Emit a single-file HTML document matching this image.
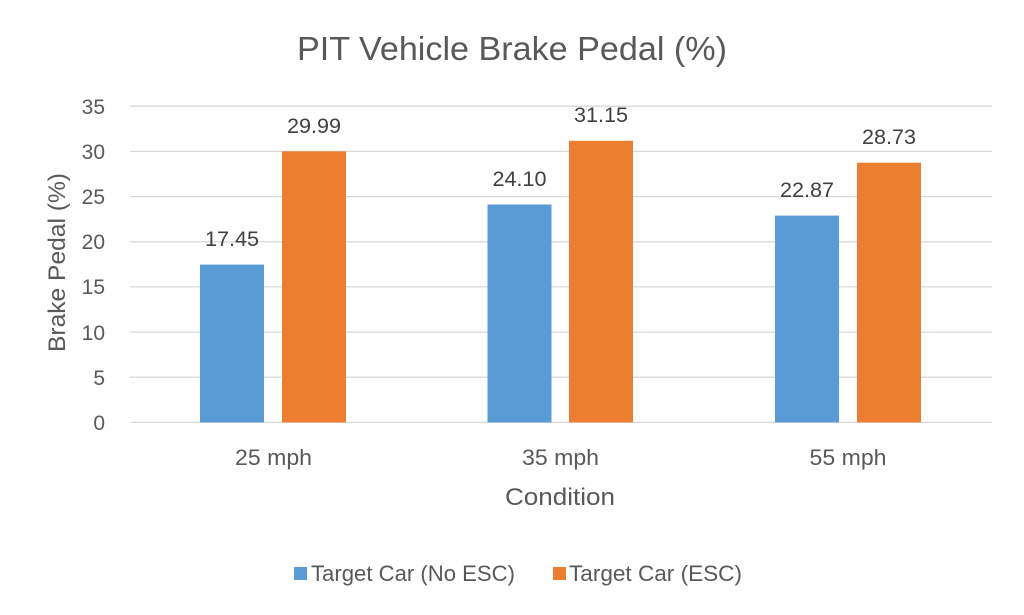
<!DOCTYPE html>
<html>
<head>
<meta charset="utf-8">
<style>
html,body{margin:0;padding:0;background:#fff;}
svg{display:block;}
text{font-family:"Liberation Sans",sans-serif;}
</style>
</head>
<body>
<svg width="1024" height="615" viewBox="0 0 1024 615" xmlns="http://www.w3.org/2000/svg">
<rect width="1024" height="615" fill="#fff"/>
<!-- title -->
<text x="512" y="60" font-size="33" fill="#595959" text-anchor="middle" textLength="430" lengthAdjust="spacingAndGlyphs">PIT Vehicle Brake Pedal (%)</text>
<!-- gridlines -->
<g stroke="#d9d9d9" stroke-width="1.3">
<line x1="130" x2="992" y1="106.2" y2="106.2"/>
<line x1="130" x2="992" y1="151.4" y2="151.4"/>
<line x1="130" x2="992" y1="196.6" y2="196.6"/>
<line x1="130" x2="992" y1="241.8" y2="241.8"/>
<line x1="130" x2="992" y1="286.9" y2="286.9"/>
<line x1="130" x2="992" y1="332.1" y2="332.1"/>
<line x1="130" x2="992" y1="377.2" y2="377.2"/>
<line x1="130" x2="992" y1="422.4" y2="422.4"/>
</g>
<!-- y tick labels -->
<g font-size="21" fill="#595959" text-anchor="end">
<text x="105" y="114">35</text>
<text x="105" y="159">30</text>
<text x="105" y="204">25</text>
<text x="105" y="249">20</text>
<text x="105" y="294">15</text>
<text x="105" y="340">10</text>
<text x="105" y="385">5</text>
<text x="105" y="430">0</text>
</g>
<!-- y axis title -->
<text transform="translate(65,262.5) rotate(-90)" font-size="24" fill="#595959" text-anchor="middle" textLength="179" lengthAdjust="spacingAndGlyphs">Brake Pedal (%)</text>
<!-- bars -->
<g fill="#5B9BD5">
<rect x="200" y="264.6" width="64" height="157.8"/>
<rect x="487.5" y="204.5" width="64" height="217.9"/>
<rect x="775" y="215.6" width="64" height="206.8"/>
</g>
<g fill="#ED7D31">
<rect x="282" y="151.3" width="64" height="271.1"/>
<rect x="569" y="140.8" width="64" height="281.6"/>
<rect x="857" y="162.7" width="64" height="259.7"/>
</g>
<!-- data labels -->
<g font-size="21" fill="#404040" text-anchor="middle">
<text x="232" y="246" textLength="54" lengthAdjust="spacingAndGlyphs">17.45</text>
<text x="314" y="133" textLength="54" lengthAdjust="spacingAndGlyphs">29.99</text>
<text x="519.5" y="186" textLength="54" lengthAdjust="spacingAndGlyphs">24.10</text>
<text x="601" y="122" textLength="54" lengthAdjust="spacingAndGlyphs">31.15</text>
<text x="807" y="197" textLength="54" lengthAdjust="spacingAndGlyphs">22.87</text>
<text x="889" y="144" textLength="54" lengthAdjust="spacingAndGlyphs">28.73</text>
</g>
<!-- category labels -->
<g font-size="22" fill="#595959" text-anchor="middle">
<text x="273.5" y="465" textLength="77" lengthAdjust="spacingAndGlyphs">25 mph</text>
<text x="560.5" y="465" textLength="77" lengthAdjust="spacingAndGlyphs">35 mph</text>
<text x="848" y="465" textLength="77" lengthAdjust="spacingAndGlyphs">55 mph</text>
</g>
<!-- x axis title -->
<text x="560" y="505" font-size="24" fill="#595959" text-anchor="middle" textLength="110" lengthAdjust="spacingAndGlyphs">Condition</text>
<!-- legend -->
<rect x="294" y="567" width="13" height="13" fill="#5B9BD5"/>
<text x="311" y="581" font-size="22" fill="#595959" textLength="204" lengthAdjust="spacingAndGlyphs">Target Car (No ESC)</text>
<rect x="553" y="567" width="13" height="13" fill="#ED7D31"/>
<text x="569" y="581" font-size="22" fill="#595959" textLength="173" lengthAdjust="spacingAndGlyphs">Target Car (ESC)</text>
</svg>
</body>
</html>
